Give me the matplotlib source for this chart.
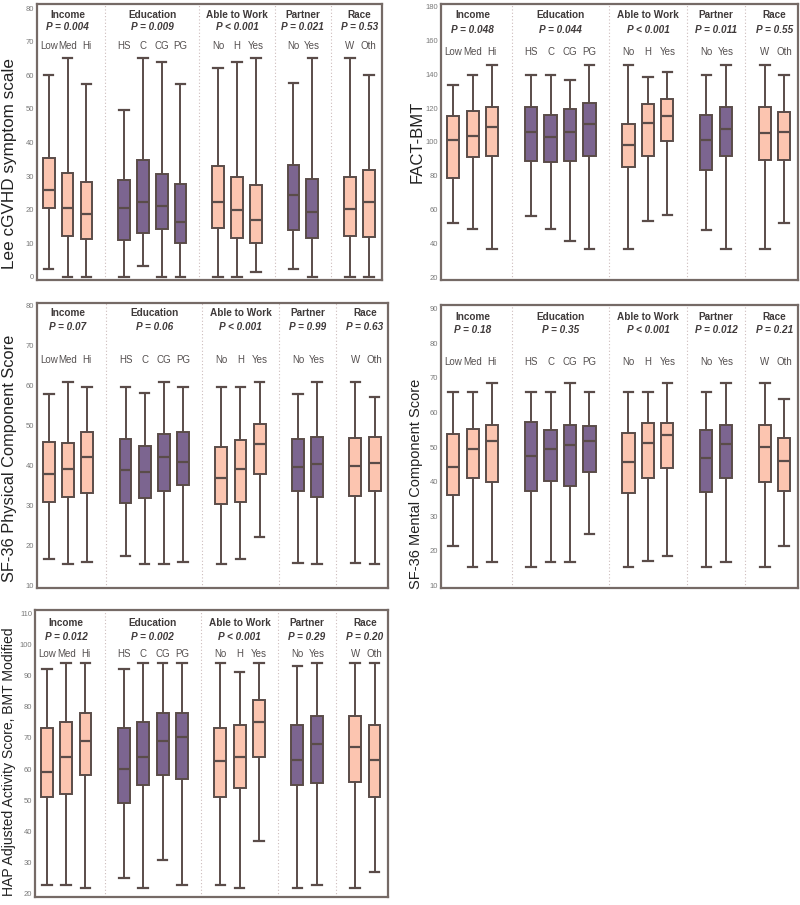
import matplotlib
matplotlib.use("Agg")
import matplotlib.pyplot as plt
import numpy as np

plt.rcParams['font.family'] = ['Liberation Sans', 'DejaVu Sans']

# ---------------- data ----------------
groups = ["Income", "Education", "Able to Work", "Partner", "Race"]
group_levels = [["Low", "Med", "Hi"], ["HS", "C", "CG", "PG"], ["No", "H", "Yes"],
                ["No", "Yes"], ["W", "Oth"]]
group_is_purple = [False, True, False, True, False]

panel_titles = ["Lee cGVHD symptom scale", "FACT-BMT", "SF-36 Physical Component Score",
                "SF-36 Mental Component Score", "HAP Adjusted Activity Score, BMT Modified"]

lee_p = ["P = 0.004", "P = 0.009", "P < 0.001", "P = 0.021", "P = 0.53"]
fact_p = ["P = 0.048", "P = 0.044", "P < 0.001", "P = 0.011", "P = 0.55"]
pcs_p = ["P = 0.07", "P = 0.06", "P < 0.001", "P = 0.99", "P = 0.63"]
mcs_p = ["P = 0.18", "P = 0.35", "P < 0.001", "P = 0.012", "P = 0.21"]
hap_p = ["P = 0.012", "P = 0.002", "P < 0.001", "P = 0.29", "P = 0.20"]

# order: Low Med Hi | HS C CG PG | No H Yes | No Yes | W Oth
lee_whishi = [60, 65.2, 57.5, 49.6, 65.2, 64, 57.5, 62.2, 64, 65.2, 57.8, 65.2, 65.2, 60]
lee_q3 = [35.5, 30.9, 28.3, 28.9, 34.8, 30.6, 27.5, 32.9, 29.8, 27.2, 33.3, 29.1, 29.6, 31.9]
lee_med = [25.7, 20.5, 18.8, 20.5, 22.4, 21.2, 16.3, 22.2, 20, 16.8, 24.4, 19.2, 20.2, 22.2]
lee_q1 = [20.5, 12, 11.2, 11, 13, 14.2, 10, 14.5, 11.4, 10, 14, 11.4, 12, 11.9]
lee_whislo = [2.2, 0, 0, 0, 3.2, 0, 0, 0, 0, 1.5, 2.2, 0, 0, 0]

fact_whishi = [133.5, 139.6, 145.3, 139.6, 139.6, 136.5, 145.3, 145.3, 138.4, 141.6, 139.6, 145.3, 145.3, 139.6]
fact_q3 = [115.5, 118.4, 120.4, 120.4, 116, 119.4, 123.3, 110.6, 122.4, 125.3, 116, 120.4, 120.4, 117.5]
fact_med = [101.2, 103.7, 108.6, 105.7, 102.7, 105.7, 110.6, 98.2, 111.2, 115.5, 101.2, 107.6, 105.3, 105.7]
fact_q1 = [78.8, 91, 92, 88.6, 88, 88.6, 92, 85.5, 92, 100.8, 83.5, 91.6, 89.6, 89.6]
fact_whislo = [52.2, 48.8, 36.5, 56, 48.8, 41.6, 36.5, 36.5, 53.3, 57, 48.2, 36.5, 36.5, 52.2]

pcs_whishi = [57.8, 60.8, 59.5, 59.5, 58, 60.8, 59.5, 59.5, 59.5, 60.8, 57.8, 60.8, 60.8, 57]
pcs_q3 = [45.75, 45.6, 48.25, 46.6, 44.9, 47.8, 48.25, 44.5, 46.2, 50.2, 46.6, 47, 46.7, 47]
pcs_med = [37.9, 39.2, 42, 38.9, 38.3, 42.1, 40.75, 36.8, 39.2, 45.2, 39.5, 40.3, 39.9, 40.5]
pcs_q1 = [30.75, 32.1, 33.1, 30.6, 31.8, 33.7, 35.2, 30.4, 30.75, 37.8, 33.5, 32, 32.25, 33.5]
pcs_whislo = [16.7, 15.3, 16, 17.4, 15.3, 15.3, 16, 15.3, 16.7, 22, 15.6, 15.3, 15.6, 15.3]

mcs_whishi = [65.8, 65.8, 68.4, 65.8, 65.8, 68.4, 65.8, 65.8, 65.8, 68.4, 65.8, 68.4, 68.4, 63.8]
mcs_q3 = [53.7, 55.2, 56.5, 57.3, 54.9, 56.5, 56.1, 54.1, 56.8, 56.8, 54.9, 56.5, 56.5, 52.5]
mcs_med = [44.1, 49.4, 51.7, 47.5, 49.3, 50.6, 51.7, 45.8, 51.1, 53.5, 46.7, 50.9, 50.1, 46]
mcs_q1 = [36.2, 41.2, 40, 37.4, 40.2, 38.75, 42.9, 36.6, 41.2, 44, 36.9, 41.2, 40, 37.3]
mcs_whislo = [21.5, 15.5, 16.7, 15.5, 16.9, 16.7, 24.8, 15.5, 17.1, 18.6, 15.5, 16.7, 15.5, 21.5]

hap_whishi = [92.1, 94, 94, 92.1, 94, 94, 94, 94, 91, 94, 92.9, 94, 94, 94]
hap_q3 = [73.2, 75, 78, 73.2, 75, 78, 78, 73.2, 74, 82, 74, 77.1, 77.1, 74]
hap_med = [59, 64, 69.1, 60, 64, 69.1, 70.2, 62.5, 63.9, 75, 63, 68, 67, 63]
hap_q1 = [51, 52, 58, 49.1, 55, 58, 56.9, 51, 53.9, 64, 55, 55.5, 56, 51]
hap_whislo = [22.9, 22.9, 22, 25, 22, 30.9, 22.9, 22.9, 22, 37.1, 22, 22.9, 22, 27]

lee_ticks = list(range(0, 81, 10))
fact_ticks = list(range(20, 181, 20))
pcs_ticks = list(range(10, 81, 10))
mcs_ticks = list(range(10, 91, 10))
hap_ticks = list(range(20, 111, 10))

# ---------------- style / layout ----------------
W, H = 800, 905
PINK = "#fcc5b0"
PURPLE = "#7c6590"
EDGE = "#5a4c49"
FRAME = "#756a66"
SEP = "#cdbcbc"

panels = [
    dict(stats=(lee_whislo, lee_q1, lee_med, lee_q3, lee_whishi), p=lee_p, ticks=lee_ticks,
         ylim=(-1, 81.3), box=(37, 4, 382, 280), ty=(0.960, 0.918, 0.849),
         lab=(10, 163, 12.3)),
    dict(stats=(fact_whislo, fact_q1, fact_med, fact_q3, fact_whishi), p=fact_p, ticks=fact_ticks,
         ylim=(18.4, 181.6), box=(441, 4, 798, 280), ty=(0.960, 0.906, 0.825),
         lab=(417, 142, 12)),
    dict(stats=(pcs_whislo, pcs_q1, pcs_med, pcs_q3, pcs_whishi), p=pcs_p, ticks=pcs_ticks,
         ylim=(9.4, 80.5), box=(37, 303, 388, 588), ty=(0.965, 0.916, 0.800),
         lab=(10, 458, 11.8)),
    dict(stats=(mcs_whislo, mcs_q1, mcs_med, mcs_q3, mcs_whishi), p=mcs_p, ticks=mcs_ticks,
         ylim=(9.3, 91), box=(441, 305, 798, 588), ty=(0.959, 0.912, 0.800),
         lab=(416, 484, 10.5)),
    dict(stats=(hap_whislo, hap_q1, hap_med, hap_q3, hap_whishi), p=hap_p, ticks=hap_ticks,
         ylim=(19, 111), box=(35, 610, 388, 897), ty=(0.956, 0.907, 0.847),
         lab=(9, 762, 10.1)),
]

fig = plt.figure(figsize=(W / 100, H / 100), dpi=100)
fig.patch.set_facecolor("white")

# positions: groups separated by one empty slot
positions, seps, centers = [], [], []
x = 0
for gi, lv in enumerate(group_levels):
    start = x
    for _ in lv:
        positions.append(x)
        x += 1
    centers.append((start + x - 1) / 2)
    if gi < len(group_levels) - 1:
        seps.append(x)
        x += 1
box_colors = []
for gi, lv in enumerate(group_levels):
    box_colors += [PURPLE if group_is_purple[gi] else PINK] * len(lv)
level_names = [n for lv in group_levels for n in lv]

for pi, pan in enumerate(panels):
    l, t, r, b = pan["box"]
    ax = fig.add_axes([l / W, 1 - b / H, (r - l) / W, (b - t) / H])
    lo, q1, md, q3, hi = pan["stats"]
    stats = [dict(whislo=lo[i], q1=q1[i], med=md[i], q3=q3[i], whishi=hi[i], fliers=[])
             for i in range(len(md))]
    bp = ax.bxp(stats, positions=positions, widths=0.62, capwidths=0.5, patch_artist=True,
                showfliers=False,
                boxprops=dict(edgecolor=EDGE, linewidth=1.4),
                medianprops=dict(color=EDGE, linewidth=1.6),
                whiskerprops=dict(color=EDGE, linewidth=1.4),
                capprops=dict(color=EDGE, linewidth=1.6))
    for patch, c in zip(bp["boxes"], box_colors):
        patch.set_facecolor(c)
    for s in seps:
        ax.axvline(s, color=SEP, linestyle=(0, (1, 2)), linewidth=0.8, zorder=0)
    ax.set_xlim(-0.62, 17.7)
    ax.set_ylim(*pan["ylim"])
    ax.set_yticks(pan["ticks"])
    ax.set_xticks([])
    ax.tick_params(axis="y", length=0, pad=2, labelsize=5.5, labelcolor="#7a7a7a")
    for sp in ax.spines.values():
        sp.set_color(FRAME)
        sp.set_linewidth(1.6)
    ty1, ty2, ty3 = pan["ty"]
    for gi, g in enumerate(groups):
        ax.text(centers[gi], ty1, g, transform=ax.get_xaxis_transform(), ha="center", va="center",
                fontsize=7.2, fontweight="bold", color="#3f3a3a")
        ax.text(centers[gi], ty2, pan["p"][gi], transform=ax.get_xaxis_transform(), ha="center",
                va="center", fontsize=7.2, fontweight="bold", fontstyle="italic", color="#3f3a3a")
    for xi, n in zip(positions, level_names):
        ax.text(xi, ty3, n, transform=ax.get_xaxis_transform(), ha="center", va="center",
                fontsize=7, color="#555050")
    lx, ly, fs = pan["lab"]
    fig.text(lx / W, 1 - ly / H, panel_titles[pi], rotation=90, ha="center", va="center",
             fontsize=fs, color="#222222")

fig.savefig("out.png", dpi=100, facecolor="white")
